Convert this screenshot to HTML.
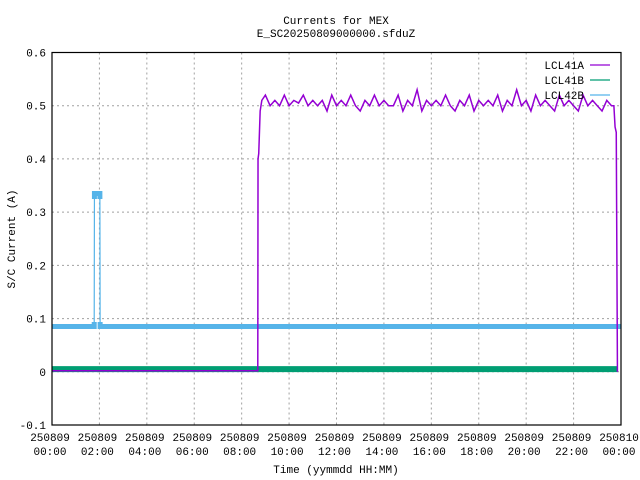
<!DOCTYPE html>
<html><head><meta charset="utf-8"><style>
html,body{margin:0;padding:0;background:#fff;}
svg{display:block;font-family:"Liberation Mono",monospace;}
</style></head><body>
<svg id="chart" width="640" height="480" viewBox="0 0 640 480" xmlns="http://www.w3.org/2000/svg">
<rect width="640" height="480" fill="#fff"/>
<defs><clipPath id="bandclip"><rect x="0" y="188" width="640" height="11"/><rect x="0" y="322" width="640" height="9"/></clipPath></defs>
<text x="336" y="24" font-size="11" text-anchor="middle">Currents for MEX</text>
<text x="336" y="37" font-size="11" text-anchor="middle">E_SC20250809000000.sfduZ</text>
<text transform="translate(15,239) rotate(-90)" font-size="11" text-anchor="middle">S/C Current (A)</text>
<text x="336" y="473" font-size="11" text-anchor="middle">Time (yymmdd HH:MM)</text>
<g id="grid"></g><g id="series"></g><g id="axes"></g><g id="legend"></g>
</svg>
<script>
const yTicks=[-0.1,0,0.1,0.2,0.3,0.4,0.5,0.6];
const yTickLabels=["-0.1","0","0.1","0.2","0.3","0.4","0.5","0.6"];
const xTickHours=[0,2,4,6,8,10,12,14,16,18,20,22,24];
const xTickDates=["250809","250809","250809","250809","250809","250809","250809","250809","250809","250809","250809","250809","250810"];
const xTickTimes=["00:00","02:00","04:00","06:00","08:00","10:00","12:00","14:00","16:00","18:00","20:00","22:00","00:00"];
const seriesNames=["LCL41A","LCL41B","LCL42B"];
// LCL41A
const aTimes=[0,8.68,8.69,8.72,8.78,8.85,9.0,9.2,9.4,9.6,9.8,10.0,10.2,10.4,10.6,10.8,11.0,11.2,11.4,11.6,11.8,12.0,12.2,12.4,12.6,12.8,13.0,13.2,13.4,13.6,13.8,14.0,14.2,14.4,14.6,14.8,15.0,15.2,15.4,15.6,15.8,16.0,16.2,16.4,16.6,16.8,17.0,17.2,17.4,17.6,17.8,18.0,18.2,18.4,18.6,18.8,19.0,19.2,19.4,19.6,19.8,20.0,20.2,20.4,20.6,20.8,21.0,21.2,21.4,21.6,21.8,22.0,22.2,22.4,22.6,22.8,23.0,23.2,23.4,23.6,23.7,23.75,23.8,23.85];
const aValues=[0.002,0.002,0.40,0.41,0.49,0.51,0.52,0.50,0.51,0.50,0.52,0.50,0.51,0.505,0.52,0.50,0.51,0.50,0.51,0.49,0.52,0.50,0.51,0.50,0.52,0.50,0.49,0.51,0.50,0.52,0.50,0.51,0.50,0.50,0.52,0.49,0.51,0.50,0.53,0.49,0.51,0.50,0.51,0.50,0.52,0.50,0.49,0.51,0.50,0.52,0.49,0.51,0.50,0.51,0.50,0.52,0.49,0.51,0.50,0.53,0.50,0.51,0.49,0.52,0.50,0.51,0.50,0.49,0.52,0.50,0.51,0.50,0.49,0.52,0.50,0.51,0.50,0.49,0.51,0.50,0.50,0.46,0.45,0.0];
// LCL41B
const bTimes=[0,2,4,6,8,10,12,14,16,18,20,22,23.85];
const bValues=[0.005,0.005,0.005,0.005,0.005,0.005,0.005,0.005,0.005,0.005,0.005,0.005,0.005];
// LCL42B
const cTimes=[0,1.78,1.79,2.02,2.03,4,6,8,10,12,14,16,18,20,22,24];
const cValues=[0.085,0.085,0.335,0.335,0.085,0.085,0.085,0.085,0.085,0.085,0.085,0.085,0.085,0.085,0.085,0.085];
const X0=52,X1=621,Y0=425,Y1=52.5;
const xs=h=>X0+(X1-X0)*h/24;
const ys=v=>Y0-(Y0-Y1)*(v+0.1)/0.7;
const NS="http://www.w3.org/2000/svg";
function mk(tag,attrs,parent){const e=document.createElementNS(NS,tag);for(const k in attrs)e.setAttribute(k,attrs[k]);parent.appendChild(e);return e;}
const grid=document.getElementById('grid'),axes=document.getElementById('axes'),ser=document.getElementById('series'),leg=document.getElementById('legend');
yTicks.forEach((v,i)=>{
  const y=ys(v);
  if(i>0&&i<yTicks.length-1){const g=mk('line',{x1:X0,x2:X1,y1:y,y2:y,stroke:'#a0a0a0','stroke-dasharray':'2,3'},grid);
  
  }
  const t=mk('text',{x:X0-6,y:y+4,'font-size':11,'text-anchor':'end'},axes);t.textContent=yTickLabels[i];
  
  
});
xTickHours.forEach((h,i)=>{
  const x=xs(h);
  if(i>0&&i<xTickHours.length-1){const g=mk('line',{x1:x,x2:x,y1:Y1,y2:Y0,stroke:'#a0a0a0','stroke-dasharray':'2,3'},grid);
  
  }
  const t=mk('text',{x:x-2,y:441,'font-size':11,'text-anchor':'middle'},axes);t.textContent=xTickDates[i];
  
  
  const t2=mk('text',{x:x-2,y:455,'font-size':11,'text-anchor':'middle'},axes);t2.textContent=xTickTimes[i];
  
  
});
const frame=mk('rect',{x:X0,y:Y1,width:X1-X0,height:Y0-Y1,fill:'none',stroke:'#000','stroke-width':1.2},axes);


function line(times,vals,color,w,name,clip){
  const p=mk('polyline',{points:times.map((t,i)=>xs(t)+','+ys(vals[i])).join(' '),fill:'none',stroke:color,'stroke-width':w,'stroke-linejoin':'miter'},ser);
  if(clip)p.setAttribute('clip-path','url(#bandclip)');
  
  
}
line(cTimes,cValues,'#56b4e9',1.2,'series-lcl42b');
line(cTimes,cValues,'#56b4e9',5,'series-lcl42b-band',true);
line(bTimes,bValues,'#009e73',6,'series-lcl41b');
line(aTimes,aValues,'#9400d3',1.5,'series-lcl41a');
const colors=['#9400d3','#009e73','#56b4e9'];
seriesNames.forEach((n,i)=>{
  const y=69+i*15;
  const t=mk('text',{x:584,y:y,'font-size':11,'text-anchor':'end'},leg);t.textContent=n;
  
  
  const l=mk('line',{x1:581+9,x2:610,y1:y-4,y2:y-4,stroke:colors[i],'stroke-width':1.2},leg);
  
  
});
</script>
</body></html>
